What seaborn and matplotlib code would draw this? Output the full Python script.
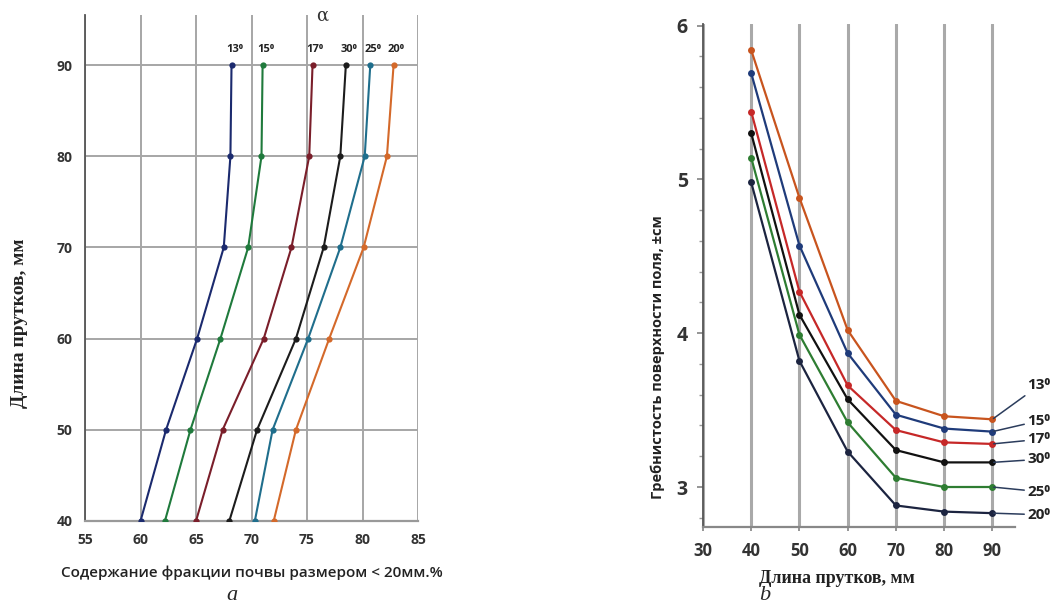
import matplotlib
matplotlib.use("Agg")
import matplotlib.pyplot as plt
import seaborn as sns
import pandas as pd
import numpy as np

sns.set_theme(style="white")
plt.rcParams['font.family'] = ['Open Sans', 'DejaVu Sans']

# ---------------- data ----------------
angles = ["13⁰", "15⁰", "17⁰", "30⁰", "25⁰", "20⁰"]

# panel a: rod length (y) vs soil fraction content (x)
rod_len_a = [40, 50, 60, 70, 80, 90]
frac_13 = [60.0, 62.3, 65.1, 67.5, 68.1, 68.2]
frac_15 = [62.2, 64.5, 67.2, 69.7, 70.9, 71.0]
frac_17 = [65.0, 67.4, 71.1, 73.6, 75.2, 75.5]
frac_30 = [68.0, 70.5, 74.0, 76.5, 78.0, 78.5]
frac_25 = [70.3, 71.9, 75.1, 78.0, 80.2, 80.7]
frac_20 = [72.0, 74.0, 77.0, 80.1, 82.2, 82.8]

# panel b: ridge height vs rod length
rod_len_b = [40, 50, 60, 70, 80, 90]
ridge_13 = [5.84, 4.88, 4.02, 3.56, 3.46, 3.44]
ridge_15 = [5.69, 4.57, 3.87, 3.47, 3.38, 3.36]
ridge_17 = [5.44, 4.27, 3.66, 3.37, 3.29, 3.28]
ridge_30 = [5.30, 4.12, 3.57, 3.24, 3.16, 3.16]
ridge_25 = [5.14, 3.99, 3.42, 3.06, 3.00, 3.00]
ridge_20 = [4.98, 3.82, 3.23, 2.88, 2.84, 2.83]

xticks_a = [55, 60, 65, 70, 75, 80, 85]
yticks_a = [40, 50, 60, 70, 80, 90]
xticks_b = [30, 40, 50, 60, 70, 80, 90]
yticks_b = [3, 4, 5, 6]

frac_series = [frac_13, frac_15, frac_17, frac_30, frac_25, frac_20]
ridge_series = [ridge_13, ridge_15, ridge_17, ridge_30, ridge_25, ridge_20]

df_a = pd.concat([pd.DataFrame({"frac": s, "len": rod_len_a, "angle": a})
                  for a, s in zip(angles, frac_series)], ignore_index=True)
df_b = pd.concat([pd.DataFrame({"len": rod_len_b, "ridge": s, "angle": a})
                  for a, s in zip(angles, ridge_series)], ignore_index=True)

pal_a = dict(zip(angles, ["#1b2a6e", "#1f7a3c", "#7a1e2a", "#1c1c1c", "#1f6e8c", "#d4692a"]))
pal_b = dict(zip(angles, ["#c8541e", "#1f3b7a", "#c62828", "#111111", "#2e7d32", "#1c2440"]))

W, H = 1053, 610
fig = plt.figure(figsize=(W / 100, H / 100), dpi=100)

# ---------------- panel a ----------------
ax1 = fig.add_axes([85 / W, 1 - 521 / H, (418 - 85) / W, (521 - 15) / H])
sns.lineplot(data=df_a, x="frac", y="len", hue="angle", palette=pal_a, sort=False,
             estimator=None, marker="o", markersize=4.5, markeredgewidth=0,
             linewidth=1.5, legend=False, ax=ax1, zorder=3)
ax1.set_xlim(55, 85)
ax1.set_ylim(40, 95.5)
ax1.set_xticks(xticks_a)
ax1.set_yticks(yticks_a)
ax1.grid(True, color="#a6a6a6", linewidth=1.4)
for s in ["top", "right"]:
    ax1.spines[s].set_visible(False)
ax1.spines["left"].set_color("#555555")
ax1.spines["bottom"].set_color("#999999")
ax1.spines["left"].set_linewidth(1.3)
ax1.spines["bottom"].set_linewidth(1.6)
ax1.tick_params(axis="both", length=3, color="#888888", labelsize=10,
                labelcolor="#333333", pad=6)
for lab in ax1.get_xticklabels() + ax1.get_yticklabels():
    lab.set_fontweight("bold")
ax1.set_xlabel("Содержание фракции почвы размером < 20мм.%", fontsize=11,
               fontweight="semibold", color="#222222")
ax1.xaxis.set_label_coords(0.5, -0.088)
ax1.set_ylabel("Длина прутков, мм", fontsize=14, fontweight="bold",
               family=["Liberation Serif", "DejaVu Serif"], color="#222222")
ax1.yaxis.set_label_coords(-0.17, 0.39)
for a, s in zip(angles, frac_series):
    ax1.annotate(a, xy=(s[-1], rod_len_a[-1]), xytext=(2, 7), textcoords="offset points",
                 ha="center", va="bottom", fontsize=8, fontweight="bold",
                 color="#222222", annotation_clip=False)
ax1.text(76.4, 95.4, "α", fontsize=13, ha="center", va="center",
         family=["DejaVu Serif"], color="#333333", clip_on=False)

# ---------------- panel b ----------------
ax2 = fig.add_axes([703 / W, 1 - 527 / H, (1015 - 703) / W, (527 - 24) / H])
sns.lineplot(data=df_b, x="len", y="ridge", hue="angle", palette=pal_b,
             estimator=None, marker="o", markersize=5, markeredgewidth=0,
             linewidth=1.6, legend=False, ax=ax2, zorder=3)
ax2.set_xlim(30, 94.7)
ax2.set_ylim(2.74, 6.01)
ax2.set_xticks(xticks_b)
ax2.set_yticks(yticks_b)
ax2.set_yticks(np.arange(2.8, 6.0, 0.2), minor=True)
ax2.grid(True, axis="x", color="#a9a9a9", linewidth=2.2)
for s in ["top", "right"]:
    ax2.spines[s].set_visible(False)
ax2.spines["left"].set_color("#555555")
ax2.spines["bottom"].set_color("#888888")
ax2.spines["left"].set_linewidth(1.3)
ax2.spines["bottom"].set_linewidth(1.6)
ax2.tick_params(axis="y", which="major", length=4, color="#888888", labelsize=14,
                labelcolor="#333333", pad=7, left=True)
ax2.tick_params(axis="y", which="minor", length=3, color="#999999", left=True)
ax2.tick_params(axis="x", length=3, color="#888888", labelsize=12,
                labelcolor="#333333", pad=8, bottom=True)
for lab in ax2.get_xticklabels() + ax2.get_yticklabels():
    lab.set_fontweight("bold")
ax2.set_xlabel("Длина прутков, мм", fontsize=13, fontweight="bold",
               family=["Liberation Serif", "DejaVu Serif"], color="#222222")
ax2.xaxis.set_label_coords(0.43, -0.085)
ax2.set_ylabel("Гребнистость поверхности поля, ±см", fontsize=10.5, fontweight="bold",
               color="#222222")
ax2.yaxis.set_label_coords(-0.122, 0.337)

label_y_b = [3.66, 3.43, 3.31, 3.18, 2.97, 2.82]
for a, s, ly in zip(angles, ridge_series, label_y_b):
    ax2.annotate(a, xy=(rod_len_b[-1], s[-1]), xytext=(97.3, ly),
                 ha="left", va="center", fontsize=11, fontweight="bold",
                 color="#222222", annotation_clip=False,
                 arrowprops=dict(arrowstyle="-", color="#2b3c5c", lw=1.1,
                                 shrinkA=0, shrinkB=1))

# captions
fig.text(232 / W, 1 - 596 / H, "a", fontsize=16, style="italic",
         family=["Liberation Serif", "DejaVu Serif"], ha="center", va="center")
fig.text(765 / W, 1 - 596 / H, "b", fontsize=16, style="italic",
         family=["Liberation Serif", "DejaVu Serif"], ha="center", va="center")

fig.savefig("out.png", dpi=100, facecolor="white")
